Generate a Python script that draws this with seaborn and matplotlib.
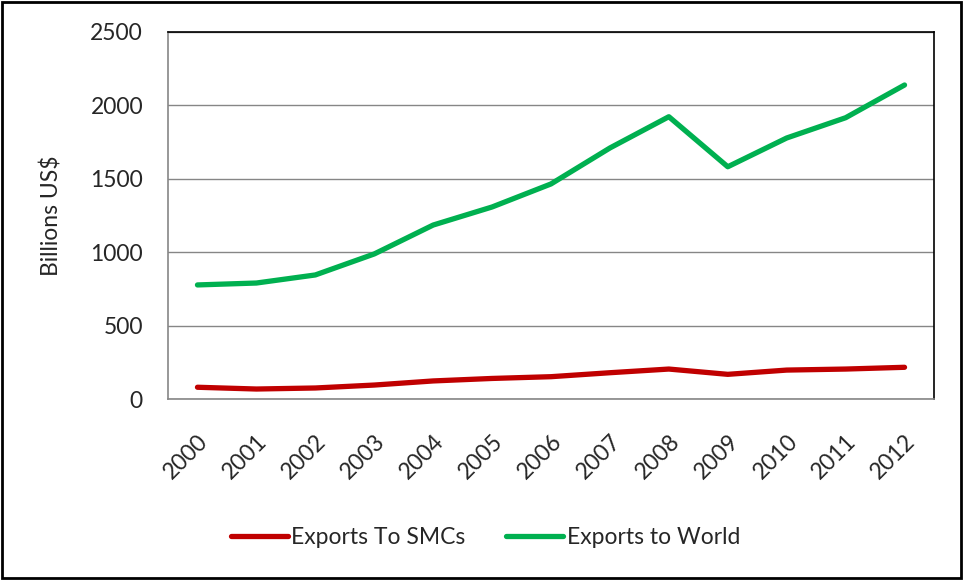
import matplotlib
matplotlib.use("Agg")
import matplotlib.pyplot as plt
import seaborn as sns
import pandas as pd
import numpy as np
from matplotlib.ticker import FixedLocator
from matplotlib.patches import Rectangle
from matplotlib.transforms import ScaledTranslation

years = ["2000", "2001", "2002", "2003", "2004", "2005", "2006",
         "2007", "2008", "2009", "2010", "2011", "2012"]
exports_smcs = [80, 68, 75, 95, 123, 140, 152, 179, 204, 168, 197, 204, 216]
exports_world = [777, 790, 845, 988, 1185, 1308, 1465, 1710, 1923, 1582, 1778, 1916, 2139]
series_names = ["Exports To SMCs", "Exports to World"]
colors = ["#C00000", "#00B050"]

df = pd.DataFrame({
    "year": years * 2,
    "value": exports_smcs + exports_world,
    "series": [series_names[0]] * len(years) + [series_names[1]] * len(years),
})
df["pos"] = list(range(len(years))) * 2

sns.set_style("white")
plt.rcParams["font.family"] = ["Lato", "DejaVu Sans"]
FS = 16.5

fig = plt.figure(figsize=(9.63, 5.80), dpi=100)
ax = fig.add_axes([168/963, 1-399/580, (934-168)/963, (399-32)/580])

sns.lineplot(data=df, x="pos", y="value", hue="series", palette=colors,
             linewidth=3.8, ax=ax, legend=False, sort=False)

ax.set_xlim(-0.5, len(years) - 0.5)
ax.set_ylim(0, 2500)
ax.set_yticks([0, 500, 1000, 1500, 2000, 2500])
ax.yaxis.grid(True, color="#868686", linewidth=1.0)
ax.set_axisbelow(True)

ax.set_xticks(range(len(years)))
ax.set_xticklabels(years, rotation=45, ha="right", va="top",
                   rotation_mode="anchor", fontsize=FS)
off = ScaledTranslation(-4/100, 0, fig.dpi_scale_trans)
for lab in ax.get_xticklabels():
    lab.set_transform(lab.get_transform() + off)
ax.xaxis.set_minor_locator(FixedLocator(np.arange(-0.5, len(years), 1.0)))
ax.tick_params(axis="x", which="major", length=0, pad=23)
ax.tick_params(axis="x", which="minor", length=6, color="#868686", width=1, direction="out")
ax.tick_params(axis="y", which="major", length=6, color="#868686", width=1,
               direction="out", labelsize=FS, pad=12)

ax.set_xlabel("")
ax.set_ylabel("Billions US$", fontsize=FS, labelpad=20)

for s in ["left", "bottom"]:
    ax.spines[s].set_color("#868686")
    ax.spines[s].set_linewidth(1.2)
for s in ["top", "right"]:
    ax.spines[s].set_color("black")
    ax.spines[s].set_linewidth(1.2)

handles = [plt.Line2D([], [], color=c, linewidth=3.8, solid_capstyle="round") for c in colors]
fig.legend(handles, series_names, loc="center", bbox_to_anchor=(0.504, 1-538/580),
           ncol=2, frameon=False, fontsize=FS, handlelength=2.5, handletextpad=0.15,
           columnspacing=1.75)

fig.patches.append(Rectangle((0.002, 0.003), 0.996, 0.994, transform=fig.transFigure,
                             fill=False, edgecolor="black", linewidth=2))

fig.savefig("out.png", dpi=100)
